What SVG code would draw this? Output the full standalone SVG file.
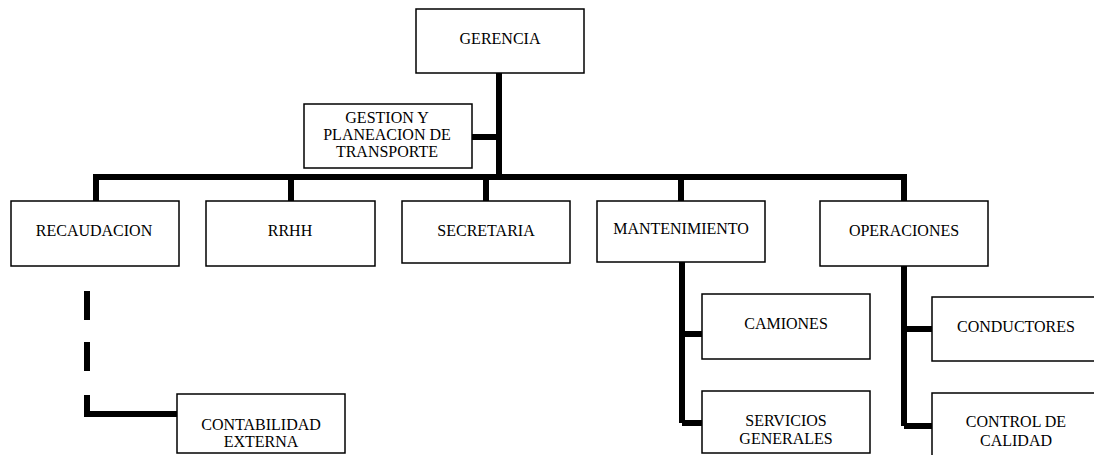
<svg xmlns="http://www.w3.org/2000/svg" width="1094" height="455" viewBox="0 0 1094 455">
<style>
.box{fill:#fff;stroke:#000;stroke-width:1.5}
.t{font-family:"Liberation Serif","Times New Roman",serif;font-size:16px;fill:#000;text-anchor:middle}
.c{fill:none;stroke:#000;stroke-width:6;stroke-linejoin:miter;stroke-linecap:butt}
</style>
<rect width="1094" height="455" fill="#fff"/>
<g id="connectors">
<path class="c" d="M499,73 V177"/>
<path class="c" d="M472,137 H499"/>
<path class="c" d="M96,201 V177 H904 V201"/>
<path class="c" d="M291,177 V201"/>
<path class="c" d="M486,177 V201"/>
<path class="c" d="M681,177 V201"/>
<path class="c" d="M702,334 H682 V262 M682,423 V330 M682,423 H702"/>
<path class="c" d="M932,329 H904 V266 M904,426 V325 M904,426 H932"/>
<path class="c" d="M87,291 V320 M87,342 V371"/>
<path class="c" d="M87,395 V414 H177"/>
</g>
<g id="gerencia"><rect class="box" x="416" y="9" width="168" height="64"/><text class="t" x="500" y="44">GERENCIA</text></g>
<g id="gestion"><rect class="box" x="304" y="104" width="168" height="64"/><text class="t" x="387" y="123">GESTION Y</text><text class="t" x="387" y="140">PLANEACION DE</text><text class="t" x="387" y="157">TRANSPORTE</text></g>
<g id="recaudacion"><rect class="box" x="11" y="201" width="168" height="65"/><text class="t" x="94" y="236">RECAUDACION</text></g>
<g id="rrhh"><rect class="box" x="206" y="201" width="169" height="65"/><text class="t" x="290" y="236">RRHH</text></g>
<g id="secretaria"><rect class="box" x="402" y="201" width="168" height="62"/><text class="t" x="486" y="236">SECRETARIA</text></g>
<g id="mantenimiento"><rect class="box" x="597" y="201" width="168" height="61"/><text class="t" x="681" y="234">MANTENIMIENTO</text></g>
<g id="operaciones"><rect class="box" x="820" y="201" width="168" height="65"/><text class="t" x="904" y="236">OPERACIONES</text></g>
<g id="camiones"><rect class="box" x="702" y="294" width="168" height="65"/><text class="t" x="786" y="329">CAMIONES</text></g>
<g id="servicios"><rect class="box" x="702" y="391" width="168" height="62"/><text class="t" x="786" y="426">SERVICIOS</text><text class="t" x="786" y="444">GENERALES</text></g>
<g id="conductores"><rect class="box" x="932" y="297" width="168" height="64"/><text class="t" x="1016" y="332">CONDUCTORES</text></g>
<g id="control"><rect class="box" x="932" y="393" width="168" height="70"/><text class="t" x="1016" y="427">CONTROL DE</text><text class="t" x="1016" y="446">CALIDAD</text></g>
<g id="contabilidad"><rect class="box" x="177" y="394" width="168" height="59"/><text class="t" x="261" y="430">CONTABILIDAD</text><text class="t" x="261" y="447">EXTERNA</text></g>
</svg>
